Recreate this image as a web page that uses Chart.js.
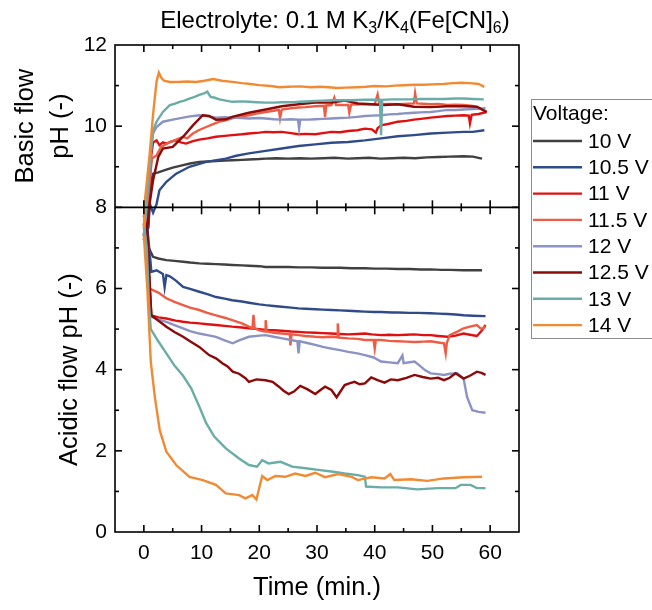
<!DOCTYPE html>
<html><head><meta charset="utf-8">
<script src="https://cdn.jsdelivr.net/npm/chart.js@4.4.0/dist/chart.umd.min.js"></script>
<style>html,body{margin:0;padding:0;background:#fff}</style>
</head><body>
<canvas id="c" width="652" height="610"></canvas>
<script>
// ---------- DATA ----------
const voltages = ['10 V','10.5 V','11 V','11.5 V','12 V','12.5 V','13 V','14 V'];
const colors = ['#404040','#2f4b8a','#e01010','#ef5c45','#8a93c3','#8b0a0a','#69aca8','#f18b33'];
const xTicks = [0,10,20,30,40,50,60];
const yTicks = [0,2,4,6,8,10,12];

// Basic flow pH: [time (min), pH]
const basic10 = [[0,7.2],[0.8,7.6],[1.2,8.6],[1.6,8.83],[2.5,8.86],[3.9,8.93],[5,8.98],[6.8,9.04],[8,9.08],[9.6,9.12],[11,9.13],[12.5,9.14],[14,9.15],[15.3,9.16],[17,9.17],[18.2,9.18],[20,9.19],[21.1,9.2],[23,9.21],[25,9.2],[27,9.21],[29,9.2],[31,9.21],[33,9.22],[35.4,9.2],[37,9.21],[39,9.22],[41,9.2],[43,9.21],[45,9.22],[47,9.21],[49,9.23],[51,9.24],[53,9.25],[55.4,9.26],[57,9.25],[58.6,9.2]];
const basic105 = [[0,7.2],[0.8,7.5],[1,8.1],[1.6,7.87],[2.2,8.08],[2.7,8.42],[3.9,8.63],[5.6,8.83],[7.9,9.0],[10.8,9.12],[14.2,9.2],[16,9.27],[18.2,9.33],[21.1,9.39],[23.9,9.45],[26.8,9.51],[29.7,9.55],[32.5,9.59],[35.4,9.61],[38.3,9.65],[41.1,9.7],[44,9.75],[46.8,9.78],[49.7,9.82],[52.6,9.84],[55.4,9.86],[57,9.86],[59,9.9]];
const basic11 = [[0,7.3],[0.8,8.2],[1.3,9.3],[1.6,9.6],[2.2,9.65],[2.7,9.53],[3.3,9.6],[3.9,9.57],[4.7,9.62],[5.6,9.65],[6.4,9.6],[7.3,9.57],[8.5,9.63],[9.6,9.67],[11,9.7],[12.5,9.74],[14,9.76],[15.3,9.78],[17,9.8],[18.2,9.82],[20,9.84],[21.1,9.86],[22.5,9.85],[23.9,9.86],[25.5,9.83],[26.8,9.8],[28,9.81],[29.7,9.8],[31,9.83],[32.5,9.86],[34,9.85],[35.4,9.88],[37,9.9],[38.3,9.94],[39.5,9.92],[40.2,9.84],[40.5,9.95],[41.1,10.02],[42.5,10.06],[44,10.11],[45.5,10.13],[46.8,10.16],[48,10.18],[49.7,10.21],[51,10.23],[52.6,10.25],[54,10.26],[55.4,10.27],[56.3,10.26],[56.5,10.07],[56.8,10.28],[58,10.3],[59.4,10.35]];
const basic115 = [[0,7.3],[0.9,8.5],[1.4,9.2],[2.2,9.28],[3,9.49],[4.5,9.61],[5.5,9.66],[6.8,9.74],[7.5,9.7],[8.5,9.82],[9.5,9.9],[10.8,9.98],[12,10.05],[13.1,10.11],[14,10.14],[15.3,10.19],[16.5,10.23],[18.2,10.27],[19.5,10.31],[21.1,10.35],[22.5,10.38],[23.4,10.4],[23.6,10.19],[23.9,10.41],[25.5,10.44],[26.8,10.46],[28,10.47],[29.7,10.49],[31.2,10.5],[31.4,10.22],[31.6,10.51],[32.5,10.52],[33,10.7],[33.3,10.52],[35.4,10.52],[35.6,10.33],[35.9,10.53],[38.3,10.54],[40,10.54],[40.5,10.78],[40.8,10.54],[42.5,10.55],[44,10.54],[46.8,10.56],[47,10.81],[47.3,10.56],[49.7,10.54],[51,10.55],[52.6,10.52],[54,10.53],[55.4,10.52],[57,10.5],[58.3,10.44],[59.4,10.35]];
const basic12 = [[0,7.3],[0.9,8.8],[1.3,9.5],[1.6,9.82],[2.2,9.98],[3.3,10.11],[5,10.16],[6.8,10.21],[8,10.24],[9.6,10.27],[10.8,10.25],[12.5,10.21],[14,10.22],[15.3,10.21],[17,10.2],[18.2,10.19],[20,10.2],[21.1,10.19],[22.5,10.17],[23.9,10.16],[25.5,10.17],[26.7,10.16],[26.9,9.94],[27.1,10.16],[28.5,10.16],[29.7,10.17],[31,10.18],[32.5,10.19],[34,10.2],[35.4,10.21],[37,10.23],[38.3,10.25],[39.5,10.26],[41.1,10.27],[42.5,10.29],[44,10.3],[45.5,10.32],[46.8,10.33],[48,10.34],[49.7,10.35],[51,10.37],[52.6,10.4],[54,10.4],[55.4,10.41],[57,10.42],[59.2,10.44]];
const basic125 = [[0,7.2],[0.6,7.5],[1,8.09],[1.6,8.67],[2.5,9.24],[3.3,9.45],[5,9.49],[6.8,9.74],[8.5,10.02],[10.2,10.27],[11.3,10.25],[12.5,10.16],[14.2,10.17],[15.3,10.23],[18.2,10.33],[21.1,10.41],[23.9,10.49],[26.8,10.54],[29.7,10.58],[32.5,10.58],[34.8,10.63],[37.1,10.56],[39.4,10.54],[41.7,10.52],[44,10.54],[46.8,10.48],[49.7,10.47],[52.6,10.49],[55.4,10.49],[57.7,10.48],[59.4,10.35]];
const basic13 = [[0,7.3],[0.5,8.2],[1,9.08],[1.6,9.9],[2.2,10.11],[3.3,10.35],[4.5,10.52],[5.3,10.55],[6.2,10.6],[7,10.63],[7.9,10.68],[8.8,10.72],[9.6,10.77],[10.3,10.8],[11,10.85],[11.3,10.78],[11.6,10.72],[12.3,10.7],[13.1,10.66],[14.2,10.63],[15.3,10.6],[17,10.61],[18.2,10.6],[19.5,10.59],[21.1,10.58],[22.5,10.58],[24,10.59],[26,10.59],[27,10.6],[29.7,10.62],[31,10.63],[32.5,10.64],[34,10.64],[36,10.64],[38.3,10.65],[40,10.65],[40.9,10.65],[41.1,9.78],[41.3,10.65],[43,10.66],[44,10.66],[46,10.66],[48,10.67],[50,10.67],[52,10.67],[54,10.68],[55.4,10.68],[57,10.67],[58.9,10.66]];
const basic14 = [[0,7.5],[0.2,8.2],[1,9.3],[1.6,10.3],[2.2,11.1],[2.6,11.32],[3,11.2],[3.5,11.12],[4.5,11.09],[6,11.09],[7.5,11.1],[9,11.09],[10.5,11.12],[12,11.16],[13.5,11.12],[15.3,11.09],[17,11.06],[18.5,11.04],[20,11.01],[22,10.99],[23.5,10.96],[25,10.97],[27,10.98],[29,10.96],[30.5,10.97],[32,10.96],[33.5,10.94],[35,10.95],[37,10.96],[38.5,10.97],[40,10.99],[42,10.98],[43.5,11.0],[45,11.01],[47,11.02],[48.5,11.02],[50,11.03],[52,11.04],[53.5,11.06],[55,11.07],[56.5,11.06],[58,11.04],[59,10.97]];

// Acidic flow pH: [time (min), pH]
const acid10 = [[0,7.6],[0.5,7.4],[0.75,7.03],[1.6,6.78],[2.5,6.74],[3.9,6.7],[5.3,6.68],[6.8,6.66],[8,6.64],[9.6,6.62],[11,6.61],[12.5,6.6],[14,6.59],[15.3,6.58],[17,6.57],[18.2,6.56],[20,6.55],[21.1,6.53],[23,6.53],[25,6.53],[26.8,6.52],[29,6.52],[31,6.51],[32.5,6.51],[34,6.51],[36,6.5],[38.3,6.5],[40,6.49],[42,6.49],[44,6.48],[46,6.48],[48,6.47],[49.7,6.47],[51.5,6.46],[53,6.46],[55.4,6.45],[57,6.45],[58.6,6.45]];
const acid105 = [[0,7.8],[0.6,7.5],[1,6.9],[1.3,6.41],[2.2,6.45],[3.3,6.36],[3.6,6.03],[3.9,6.33],[4.5,6.3],[5.5,6.2],[6.8,6.04],[8,5.99],[9.6,5.92],[11,5.86],[12.5,5.79],[14,5.75],[15.3,5.71],[17,5.68],[18.2,5.65],[20,5.61],[21.1,5.59],[22.5,5.57],[23.9,5.55],[25.5,5.53],[26.8,5.51],[28,5.5],[29.7,5.49],[31,5.48],[32.5,5.47],[34,5.46],[35.4,5.45],[37,5.44],[38.3,5.43],[40,5.42],[41.1,5.42],[43,5.41],[44,5.41],[46,5.4],[47.4,5.4],[49.7,5.39],[51,5.38],[52.6,5.37],[54,5.36],[55.4,5.34],[57,5.33],[59.2,5.32]];
const acid11 = [[0,7.5],[0.6,7.0],[1,6.0],[1.3,5.34],[2.5,5.29],[3.9,5.26],[5.5,5.21],[6.8,5.18],[8,5.16],[9.6,5.14],[11,5.12],[12.5,5.1],[14,5.08],[15.3,5.06],[17,5.04],[18.2,5.02],[20,5.0],[21.1,4.98],[22.5,4.97],[23.9,4.96],[25.5,4.94],[26.8,4.93],[28,4.92],[29.7,4.91],[31,4.9],[32.5,4.89],[34,4.88],[35.4,4.87],[37,4.88],[38.3,4.89],[39.5,4.87],[41.1,4.85],[42.5,4.86],[44,4.85],[45.5,4.86],[46.8,4.87],[48.5,4.85],[49.7,4.85],[51,4.83],[52.6,4.81],[54,4.84],[55.4,4.89],[56.5,4.86],[57.7,4.83],[58.5,4.95],[59.2,5.1]];
const acid115 = [[0,7.6],[0.5,7.2],[0.9,6.3],[1,6.0],[2.5,5.9],[3.9,5.76],[5.3,5.67],[6.8,5.59],[8,5.53],[9.6,5.47],[11,5.4],[12.5,5.34],[14,5.28],[15.3,5.22],[17,5.14],[18.2,5.06],[18.8,5.02],[19,5.35],[19.2,5.02],[20,4.97],[21,4.94],[21.1,5.22],[21.3,4.94],[22.5,4.91],[23.9,4.89],[25.3,4.87],[25.4,4.6],[25.6,4.87],[26.8,4.85],[28,4.83],[29.7,4.81],[31,4.8],[32.5,4.81],[33.5,4.8],[33.6,5.14],[33.8,4.79],[35.4,4.77],[37,4.76],[38.3,4.73],[39.8,4.73],[40,4.52],[40.2,4.73],[41.1,4.73],[42.5,4.71],[44,4.7],[45.5,4.69],[46.8,4.68],[48.5,4.69],[49.7,4.7],[51,4.67],[52,4.65],[52.3,4.4],[52.5,4.66],[53,4.85],[54.5,4.95],[55.4,5.02],[56.5,5.06],[57.7,5.1],[58.5,5.0],[59.2,5.06]];
const acid12 = [[0,7.6],[0.6,7.0],[1,6.0],[1.3,5.3],[2.5,5.24],[3.9,5.18],[5.3,5.1],[6.8,5.02],[8,4.95],[9.6,4.89],[11,4.85],[12.5,4.81],[14,4.72],[15.4,4.65],[16.5,4.72],[18.2,4.81],[20,4.84],[21.1,4.85],[22.5,4.81],[24,4.77],[25.5,4.73],[26.6,4.7],[26.8,4.4],[27,4.7],[28.5,4.65],[29.7,4.61],[31,4.56],[32.5,4.52],[34,4.48],[35.4,4.44],[37,4.4],[38.3,4.36],[39.8,4.3],[41.1,4.2],[42.5,4.18],[44,4.16],[44.8,4.35],[45,4.16],[46.9,4.2],[47.8,4.1],[48.7,3.99],[49.7,3.91],[51,3.89],[52,3.87],[53,3.9],[54.3,3.91],[55.4,3.78],[56,3.33],[56.9,3.0],[58,2.96],[59.2,2.94]];
const acid125 = [[0,7.8],[0.6,7.4],[1,6.2],[1.3,5.34],[3.9,5.06],[5.3,4.93],[6.8,4.81],[8,4.7],[9.6,4.56],[11.3,4.36],[12.5,4.28],[13.6,4.16],[14.5,4.08],[15.4,3.95],[16.5,3.9],[17.6,3.79],[18.2,3.7],[19.5,3.76],[21.1,3.74],[22.3,3.7],[23.4,3.58],[24.2,3.48],[25.1,3.4],[26,3.46],[27.1,3.6],[28.3,3.52],[29.7,3.4],[30.6,3.5],[31.4,3.58],[32.5,3.5],[33.4,3.32],[34,3.45],[34.8,3.62],[35.6,3.66],[36.5,3.7],[37.4,3.64],[38.3,3.66],[39.4,3.81],[40.5,3.74],[41.7,3.68],[42.8,3.76],[44,3.74],[45.5,3.8],[46.9,3.87],[48.3,3.82],[49.7,3.78],[51,3.8],[52,3.74],[53,3.8],[54,3.91],[55.4,3.78],[56.5,3.85],[57.7,3.95],[58.5,3.92],[59.2,3.87]];
const acid13 = [[0,7.6],[0.5,7.0],[0.9,5.6],[1.2,5.0],[2.5,4.7],[3.9,4.4],[5.3,4.1],[6.8,3.85],[8.2,3.54],[9.6,3.09],[10.8,2.68],[12.2,2.35],[14.2,2.06],[16.5,1.81],[18.2,1.65],[19.6,1.61],[20.5,1.77],[21.6,1.69],[23.7,1.73],[25.7,1.61],[28,1.57],[30.2,1.53],[32.5,1.49],[34.8,1.44],[37.1,1.4],[38.3,1.36],[38.5,1.12],[41.1,1.1],[44,1.1],[47.4,1.05],[50.9,1.08],[54,1.08],[54.9,1.16],[56.6,1.16],[57.7,1.08],[59.2,1.08]];
const acid14 = [[0,7.3],[0.6,6.0],[1.2,4.2],[1.9,3.33],[2.75,2.51],[3.9,1.98],[5.6,1.65],[7.9,1.36],[10.2,1.28],[12.5,1.16],[14.2,0.95],[16.5,0.91],[17.6,0.83],[18.8,0.91],[19.5,0.8],[20.5,1.38],[21.4,1.28],[22.8,1.38],[24.5,1.36],[26.2,1.44],[28,1.38],[29.7,1.46],[31.4,1.35],[33.7,1.43],[36,1.36],[37.1,1.28],[39.4,1.35],[41.7,1.32],[42.7,1.43],[43.4,1.28],[46.3,1.3],[49.1,1.26],[52,1.32],[55.4,1.35],[58.6,1.36]];

const basicSeries = [basic10,basic105,basic11,basic115,basic12,basic125,basic13,basic14];
const acidSeries  = [acid10,acid105,acid11,acid115,acid12,acid125,acid13,acid14];

// ---------- CHART ----------
const FONT = '"Liberation Sans", Arial, Helvetica, sans-serif';
const toXY = arr => arr.map(([x,y]) => ({x, y}));
const datasets = [];
voltages.forEach((v,i) => {
  datasets.push({label: v, data: toXY(basicSeries[i]), borderColor: colors[i], borderWidth: 2.4, pointRadius: 0, tension: 0, order: 7 - i, inLegend: true});
});
voltages.forEach((v,i) => {
  datasets.push({label: v, data: toXY(acidSeries[i]), borderColor: colors[i], borderWidth: 2.4, pointRadius: 0, tension: 0, order: 7 - i, inLegend: false});
});

const framePlugin = {
  id: 'frame',
  afterDatasetsDraw(chart) {
    const {ctx, chartArea: a, scales: {x, y}} = chart;
    const ln = (x1,y1,x2,y2) => { ctx.beginPath(); ctx.moveTo(x1,y1); ctx.lineTo(x2,y2); ctx.stroke(); };
    ctx.save();
    ctx.strokeStyle = '#000'; ctx.lineWidth = 1.6;
    ctx.strokeRect(a.left, a.top, a.right - a.left, a.bottom - a.top);
    const ym = y.getPixelForValue(8);
    ln(a.left, ym, a.right, ym);
    for (let v = 0; v <= 60; v += 5) {
      const px = x.getPixelForValue(v);
      const L = v % 10 === 0 ? 7 : 4;
      ln(px, a.bottom, px, a.bottom - L);
      ln(px, ym - L, px, ym + L);
      ln(px, a.top, px, a.top + L);
    }
    for (let v = 1; v < 12; v++) {
      const py = y.getPixelForValue(v);
      const L = v % 2 === 0 ? 7 : 4;
      ln(a.left, py, a.left + L, py);
      ln(a.right, py, a.right - L, py);
    }
    ctx.restore();
  }
};

const textPlugin = {
  id: 'texts',
  afterDraw(chart) {
    const {ctx, chartArea: a, scales: {y}} = chart;
    ctx.save();
    ctx.fillStyle = '#000';
    // Title with subscripts
    const big = '24px ' + FONT, small = '16px ' + FONT;
    const parts = [['Electrolyte: 0.1 M K', 0],['3',1],['/K',0],['4',1],['(Fe[CN]',0],['6',1],[')',0]];
    let w = 0;
    parts.forEach(([t,s]) => { ctx.font = s ? small : big; w += ctx.measureText(t).width; });
    let cx = 335 - w / 2;
    ctx.textBaseline = 'alphabetic'; ctx.textAlign = 'left';
    parts.forEach(([t,s]) => { ctx.font = s ? small : big; ctx.fillText(t, cx, s ? 33 : 28); cx += ctx.measureText(t).width; });
    // Y titles
    ctx.font = '25.5px ' + FONT; ctx.textAlign = 'center';
    const rot = (txt, bx, cy) => { ctx.save(); ctx.translate(bx, cy); ctx.rotate(-Math.PI/2); ctx.fillText(txt, 0, 0); ctx.restore(); };
    const topMid = (a.top + y.getPixelForValue(8)) / 2;
    const botMid = (a.bottom + y.getPixelForValue(8)) / 2;
    rot('Basic flow', 33, topMid);
    rot('pH (-)', 68, topMid);
    rot('Acidic flow pH (-)', 77, botMid);
    // Legend
    ctx.strokeStyle = '#8c8c8c'; ctx.lineWidth = 1;
    ctx.strokeRect(531.5, 99.5, 125, 239);
    ctx.font = '21px ' + FONT; ctx.textAlign = 'left'; ctx.textBaseline = 'middle';
    ctx.fillText('Voltage:', 533, 114);
    const items = chart.data.datasets.filter(d => d.inLegend);
    items.forEach((d, i) => {
      const yy = 141 + i * 26.3;
      ctx.strokeStyle = d.borderColor; ctx.lineWidth = 2.4;
      ctx.beginPath(); ctx.moveTo(533, yy); ctx.lineTo(582, yy); ctx.stroke();
      ctx.fillText(d.label, 588, yy + 1);
    });
    ctx.restore();
  }
};

new Chart(document.getElementById('c'), {
  type: 'line',
  data: {datasets},
  options: {
    responsive: false,
    animation: false,
    layout: {padding: {top: 45, right: 133, left: 0, bottom: 0}},
    plugins: {legend: {display: false}, tooltip: {enabled: false}, title: {display: false}},
    scales: {
      x: {
        type: 'linear', min: -5, max: 65,
        afterBuildTicks: s => { s.ticks = xTicks.map(v => ({value: v})); },
        afterFit: s => { s.height = 78; },
        grid: {display: false, drawTicks: false},
        border: {display: false},
        ticks: {color: '#000', font: {size: 21, family: FONT}, padding: 9, maxRotation: 0},
        title: {display: true, text: 'Time (min.)', color: '#000', font: {size: 25.5, family: FONT}, padding: {top: 0, bottom: 7}}
      },
      y: {
        type: 'linear', min: 0, max: 12,
        afterBuildTicks: s => { s.ticks = yTicks.map(v => ({value: v})); },
        afterFit: s => { s.width = 115; },
        grid: {display: false, drawTicks: false},
        border: {display: false},
        ticks: {color: '#000', font: {size: 21, family: FONT}, padding: 8}
      }
    }
  },
  plugins: [framePlugin, textPlugin]
});
</script>
</body></html>
